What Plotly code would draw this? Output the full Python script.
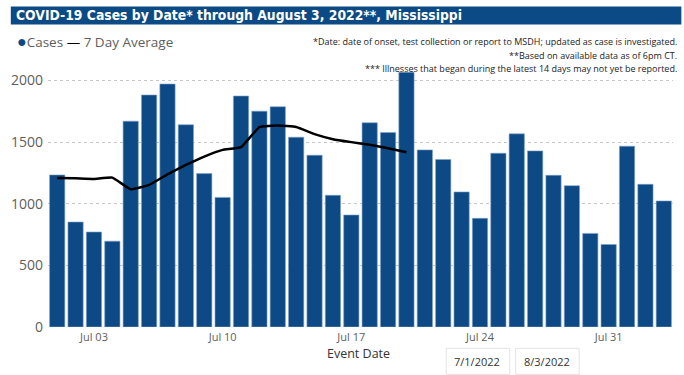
import plotly.graph_objects as go
import pandas as pd

dates = pd.date_range("2022-07-01", "2022-08-03", freq="D").strftime("%Y-%m-%d").tolist()
cases = [1233, 851, 770, 696, 1669, 1881, 1970, 1640, 1244, 1051,
         1873, 1750, 1786, 1539, 1393, 1068, 908, 1656, 1577, 2065,
         1436, 1358, 1095, 881, 1409, 1566, 1428, 1230, 1146, 759,
         669, 1466, 1157, 1022]
avg_dates = dates[:20]
avg7 = [1209, 1206, 1201, 1211, 1117, 1152, 1238, 1314, 1382, 1436,
        1458, 1621, 1634, 1621, 1564, 1523, 1499, 1477, 1450, 1417]
tick_vals = ["2022-07-03", "2022-07-10", "2022-07-17", "2022-07-24", "2022-07-31"]
tick_text = ["Jul 03", "Jul 10", "Jul 17", "Jul 24", "Jul 31"]
y_ticks = [0, 500, 1000, 1500, 2000]

BLUE = "#0d4a85"
GREY = "#605e5c"
FONT = "Open Sans, Noto Sans, sans-serif"

W, H = 684, 375
L, R, T, B = 42.5, 11.4, 68.4, 48.3

fig = go.Figure()
fig.add_trace(go.Bar(x=dates, y=cases, marker=dict(color=BLUE, line=dict(color="#7fa3c8", width=0.6)),
                     name="Cases", showlegend=False))
fig.add_trace(go.Scatter(x=avg_dates, y=avg7, mode="lines", line=dict(color="black", width=2.5, shape="spline", smoothing=0.3),
                         name="7 Day Average", showlegend=False))

fig.update_layout(
    width=W, height=H,
    margin=dict(l=L, r=R, t=T, b=B, pad=0),
    paper_bgcolor="white", plot_bgcolor="white",
    bargap=0.17,
    font=dict(family=FONT, color=GREY),
    xaxis=dict(type="date", range=["2022-06-30 12:00", "2022-08-03 12:00"],
               tickvals=tick_vals, ticktext=tick_text, tickfont=dict(size=11, color=GREY),
               showgrid=False, zeroline=False, showline=False, ticks="", ticklabelstandoff=2),
    yaxis=dict(range=[0, 2100], tickvals=y_ticks, tickfont=dict(size=14, color=GREY),
               showgrid=True, gridcolor="#c8c8c8", griddash="dot", gridwidth=1,
               zeroline=False, showline=False, ticks="", ticklabelstandoff=4),
)

def px_x(x):
    return (x - L) / (W - L - R)

def px_y(y):
    return (H - B - y) / (H - T - B)

# title bar
fig.add_shape(type="rect", xref="paper", yref="paper",
              x0=px_x(5), x1=px_x(681), y0=px_y(25), y1=px_y(7),
              fillcolor="#0b4a84", line=dict(width=0), layer="above")

fig.add_annotation(xref="paper", yref="paper", x=px_x(8), y=px_y(16), xanchor="left", yanchor="middle",
                   text="<b>COVID-19 Cases by Date* through August 3, 2022**, Mississippi</b>",
                   showarrow=False, font=dict(family="DejaVu Sans Condensed, sans-serif", size=13.8, color="white"))

# legend
fig.add_annotation(xref="paper", yref="paper", x=px_x(9), y=px_y(41), xanchor="left", yanchor="middle",
                   text="<span style='color:%s;font-size:16px'>●</span>Cases <span style='color:black'>—</span> 7 Day Average" % BLUE,
                   showarrow=False, font=dict(family=FONT, size=13.5, color=GREY))

notes = ["*Date: date of onset, test collection or report to MSDH; updated as case is investigated.",
         "**Based on available data as of 6pm CT.",
         "*** Illnesses that began during the latest 14 days may not yet be reported."]
for txt, yy in zip(notes, [42, 55.5, 69]):
    fig.add_annotation(xref="paper", yref="paper", x=px_x(679), y=px_y(yy), xanchor="right", yanchor="middle",
                       text=txt, showarrow=False, font=dict(family=FONT, size=9, color="#222222"))

fig.add_annotation(xref="paper", yref="paper", x=px_x(356), y=px_y(353), xanchor="center", yanchor="middle",
                   text="Event Date", showarrow=False, font=dict(family=FONT, size=12.5, color="#333333"))

for x0, x1, txt in [(444, 508, "7/1/2022"), (514, 578, "8/3/2022")]:
    fig.add_shape(type="rect", xref="paper", yref="paper", x0=px_x(x0), x1=px_x(x1),
                  y0=px_y(374), y1=px_y(348), line=dict(color="#e3e3e3", width=1), fillcolor="white")
    fig.add_annotation(xref="paper", yref="paper", x=px_x(x0 + 6), y=px_y(361.5), xanchor="left", yanchor="middle",
                       text=txt, showarrow=False, font=dict(family=FONT, size=11, color="#333333"))

fig.write_html("out.html", config={"displayModeBar": False},
               post_script="document.body.style.margin='0';document.body.style.overflow='hidden';")
